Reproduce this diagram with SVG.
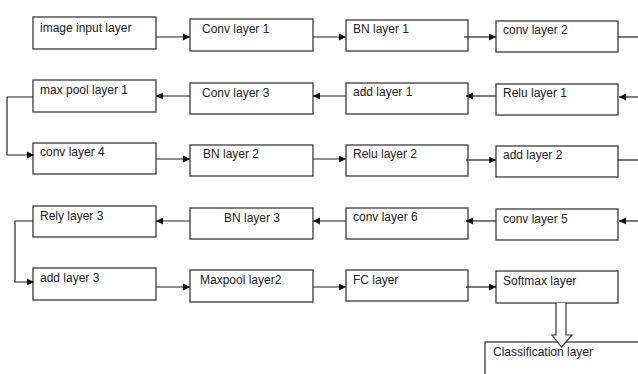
<svg xmlns="http://www.w3.org/2000/svg" width="638" height="374" viewBox="0 0 638 374">
<defs>
<marker id="ah" markerWidth="8" markerHeight="8" refX="7" refY="4" orient="auto" markerUnits="userSpaceOnUse">
<path d="M0,0.5 L7,4 L0,7.5 Z" fill="#111"/>
</marker>
<style>
.box{fill:#fff;stroke:#3a3a3a;stroke-width:1.3}
.lbl{font-family:"Liberation Sans",Arial,sans-serif;font-size:12px;fill:#222}
.c{fill:none;stroke:#222;stroke-width:1.2}
.ca{fill:none;stroke:#222;stroke-width:1.2;marker-end:url(#ah)}
</style>
</defs>
<rect width="638" height="374" fill="#fff"/>
<g id="n1"><rect class="box" x="33" y="17" width="123" height="32"/><text class="lbl" x="40" y="32">image input layer</text></g>
<g id="n2"><rect class="box" x="190" y="19" width="123" height="32"/><text class="lbl" x="202" y="33">Conv layer 1</text></g>
<g id="n3"><rect class="box" x="346" y="20" width="122" height="31"/><text class="lbl" x="353" y="33">BN layer 1</text></g>
<g id="n4"><rect class="box" x="496" y="21" width="122" height="31"/><text class="lbl" x="503" y="34">conv layer 2</text></g>
<g id="n5"><rect class="box" x="33" y="80" width="123" height="32"/><text class="lbl" x="40" y="94">max pool layer 1</text></g>
<g id="n6"><rect class="box" x="190" y="83" width="123" height="31"/><text class="lbl" x="202" y="97">Conv layer 3</text></g>
<g id="n7"><rect class="box" x="346" y="83" width="122" height="31"/><text class="lbl" x="353" y="96">add layer 1</text></g>
<g id="n8"><rect class="box" x="496" y="84" width="122" height="31"/><text class="lbl" x="503" y="97">Relu layer 1</text></g>
<g id="n9"><rect class="box" x="33" y="143" width="123" height="31"/><text class="lbl" x="40" y="156">conv layer 4</text></g>
<g id="n10"><rect class="box" x="190" y="145" width="123" height="31"/><text class="lbl" x="203" y="158">BN layer 2</text></g>
<g id="n11"><rect class="box" x="346" y="145" width="122" height="31"/><text class="lbl" x="353" y="158">Relu layer 2</text></g>
<g id="n12"><rect class="box" x="496" y="146" width="122" height="31"/><text class="lbl" x="503" y="159">add layer 2</text></g>
<g id="n13"><rect class="box" x="33" y="206" width="123" height="31"/><text class="lbl" x="40" y="220">Rely layer 3</text></g>
<g id="n14"><rect class="box" x="190" y="208" width="123" height="31"/><text class="lbl" x="224" y="222">BN layer 3</text></g>
<g id="n15"><rect class="box" x="346" y="208" width="122" height="31"/><text class="lbl" x="353" y="221">conv layer 6</text></g>
<g id="n16"><rect class="box" x="496" y="209" width="122" height="31"/><text class="lbl" x="503" y="223">conv layer 5</text></g>
<g id="n17"><rect class="box" x="33" y="268" width="123" height="32"/><text class="lbl" x="40" y="282">add layer 3</text></g>
<g id="n18"><rect class="box" x="190" y="270" width="123" height="32"/><text class="lbl" x="200" y="284">Maxpool layer2</text></g>
<g id="n19"><rect class="box" x="346" y="270" width="122" height="31"/><text class="lbl" x="353" y="284">FC layer</text></g>
<g id="n20"><rect class="box" x="496" y="271" width="122" height="32"/><text class="lbl" x="503" y="285">Softmax layer</text></g>
<g id="n21"><rect class="box" x="485" y="342" width="160" height="40"/><text class="lbl" x="493" y="356">Classification layer</text></g>
<g id="connectors">
<path class="ca" d="M156,37 H190"/>
<path class="ca" d="M313,37 H346"/>
<path class="ca" d="M464,37 H496"/>
<path class="c" d="M618,37 H638"/>
<path class="ca" d="M638,97 H619"/>
<path class="ca" d="M496,96 H466"/>
<path class="ca" d="M346,96 H313"/>
<path class="ca" d="M190,96 H156"/>
<path class="ca" d="M33,97 H7 V155 H34"/>
<path class="ca" d="M156,159 H190"/>
<path class="ca" d="M313,159 H346"/>
<path class="ca" d="M466,160 H496"/>
<path class="c" d="M618,160 H638"/>
<path class="ca" d="M638,221 H619"/>
<path class="ca" d="M496,221 H466"/>
<path class="ca" d="M346,221 H313"/>
<path class="ca" d="M190,221 H156"/>
<path class="ca" d="M33,221 H15 V282 H34"/>
<path class="ca" d="M156,287 H190"/>
<path class="ca" d="M313,287 H346"/>
<path class="ca" d="M466,287 H496"/>
<path d="M556,303 V335 H552 L561.5,347 L572,335 H566 V303" fill="#fff" stroke="#333" stroke-width="1.2"/>
</g>
</svg>
